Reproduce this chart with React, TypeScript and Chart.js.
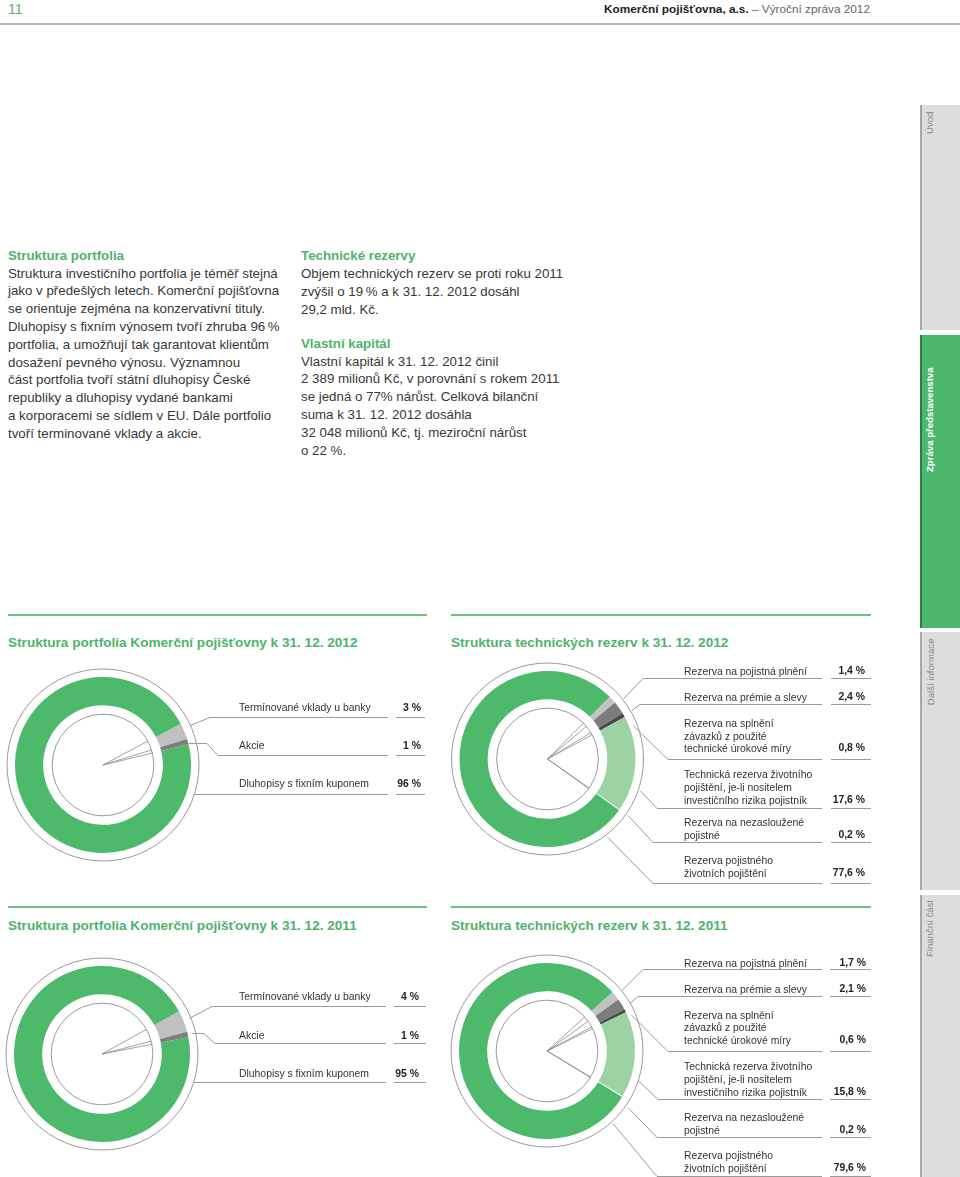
import React, { useEffect, useRef } from 'react';
import { Chart, registerables } from 'chart.js';
Chart.register(...registerables);

// ---------- data ----------
const portfolioLabels = ['Termínované vklady u banky', 'Akcie', 'Dluhopisy s fixním kuponem'];
const portfolio2012 = [3, 1, 96];
const portfolio2011 = [4, 1, 95];

const reserveLabels = [
  ['Rezerva na pojistná plnění'],
  ['Rezerva na prémie a slevy'],
  ['Rezerva na splnění', 'závazků z použité', 'technické úrokové míry'],
  ['Technická rezerva životního', 'pojištění, je-li nositelem', 'investičního rizika pojistník'],
  ['Rezerva na nezasloužené', 'pojistné'],
  ['Rezerva pojistného', 'životních pojištění'],
];
const reserves2012 = [1.4, 2.4, 0.8, 17.6, 0.2, 77.6];
const reserves2011 = [1.7, 2.1, 0.6, 15.8, 0.2, 79.6];

const portfolioColors = ['#c0c0c0', '#7e7e7e', '#4cb96b'];
const reserveColors = ['#c3c3c3', '#7d7d7d', '#4a4a4a', '#9dd3a3', '#e8f5ea', '#4cb96b'];

const GREEN = '#4db46a';
const FONT = '"Liberation Sans", Arial, Helvetica, sans-serif';

type Pt = [number, number];

interface DonutProps {
  left: number; top: number; width: number; height: number;
  cx: number; cy: number;
  values: number[]; colors: string[]; rotation: number;
  leaders: Pt[][];
  valueLines: { x1: number; x2: number; ys: number[] };
}

function Donut(p: DonutProps) {
  const ref = useRef<HTMLCanvasElement>(null);
  useEffect(() => {
    const R = 88;
    const relX = p.cx - p.left;
    const relY = p.cy - p.top;
    const decor = {
      id: 'decor',
      afterDatasetsDraw(chart: any) {
        const ctx = chart.ctx as CanvasRenderingContext2D;
        const arcs = chart.getDatasetMeta(0).data as any[];
        if (!arcs.length) return;
        const { x, y, outerRadius, innerRadius } = arcs[0].getProps(['x', 'y', 'outerRadius', 'innerRadius'], true);
        ctx.save();
        ctx.strokeStyle = '#9a9a9a';
        ctx.lineWidth = 1;
        ctx.beginPath();
        ctx.arc(x, y, outerRadius + 8, 0, Math.PI * 2);
        ctx.stroke();
        const rIn = innerRadius - 9;
        ctx.beginPath();
        ctx.arc(x, y, rIn, 0, Math.PI * 2);
        ctx.stroke();
        ctx.strokeStyle = '#8a8a8a';
        ctx.lineWidth = 0.8;
        ctx.beginPath();
        arcs.forEach((a) => {
          const sa = a.startAngle;
          ctx.moveTo(x, y);
          ctx.lineTo(x + rIn * Math.cos(sa), y + rIn * Math.sin(sa));
        });
        ctx.stroke();
        ctx.strokeStyle = '#9a9a9a';
        ctx.lineWidth = 1;
        p.leaders.forEach((pts) => {
          ctx.beginPath();
          pts.forEach(([px, py], i) => {
            const lx = px - p.left, ly = py - p.top + 0.5;
            if (i === 0) ctx.moveTo(lx, ly); else ctx.lineTo(lx, ly);
          });
          ctx.stroke();
        });
        ctx.beginPath();
        p.valueLines.ys.forEach((vy) => {
          ctx.moveTo(p.valueLines.x1 - p.left, vy - p.top + 0.5);
          ctx.lineTo(p.valueLines.x2 - p.left, vy - p.top + 0.5);
        });
        ctx.stroke();
        ctx.restore();
      },
    };
    const chart = new Chart(ref.current!, {
      type: 'doughnut',
      data: {
        labels: p.values.map((_, i) => String(i)),
        datasets: [{ data: p.values, backgroundColor: p.colors, borderWidth: 0 }],
      },
      options: {
        responsive: false,
        animation: false,
        devicePixelRatio: 1,
        rotation: p.rotation,
        cutout: '68%',
        events: [],
        layout: {
          padding: {
            left: relX - R,
            top: relY - R,
            right: p.width - (relX + R),
            bottom: p.height - (relY + R),
          },
        },
        plugins: { legend: { display: false }, tooltip: { enabled: false } },
      },
      plugins: [decor],
    });
    return () => chart.destroy();
  }, []);
  return (
    <canvas
      ref={ref}
      width={p.width}
      height={p.height}
      style={{ position: 'absolute', left: p.left, top: p.top, width: p.width, height: p.height }}
    />
  );
}

function T(props: { x: number; cy: number; size: number; lh?: number; color?: string; bold?: boolean; right?: boolean; children: React.ReactNode; style?: React.CSSProperties }) {
  const lh = props.lh ?? Math.round(props.size * 1.3);
  const st: React.CSSProperties = {
    position: 'absolute',
    top: props.cy - lh / 2,
    lineHeight: lh + 'px',
    fontSize: props.size,
    fontFamily: FONT,
    fontWeight: props.bold ? 700 : 400,
    color: props.color ?? '#333',
    whiteSpace: 'nowrap',
    ...props.style,
  };
  if (props.right) { st.right = 960 - props.x; st.textAlign = 'right'; } else st.left = props.x;
  return <div style={st}>{props.children}</div>;
}

const leftBody = [
  'Struktura investičního portfolia je téměř stejná',
  'jako v předešlých letech. Komerční pojišťovna',
  'se orientuje zejména na konzervativní tituly.',
  'Dluhopisy s fixním výnosem tvoří zhruba 96\u2009%',
  'portfolia, a umožňují tak garantovat klientům',
  'dosažení pevného výnosu. Významnou',
  'část portfolia tvoří státní dluhopisy České',
  'republiky a dluhopisy vydané bankami',
  'a korporacemi se sídlem v EU. Dále portfolio',
  'tvoří terminované vklady a akcie.',
];
const rightBody1 = [
  'Objem technických rezerv se proti roku 2011',
  'zvýšil o 19\u2009% a k 31. 12. 2012 dosáhl',
  '29,2 mld. Kč.',
];
const rightBody2 = [
  'Vlastní kapitál k 31. 12. 2012 činil',
  '2 389 milionů Kč, v porovnání s rokem 2011',
  'se jedná o 77% nárůst. Celková bilanční',
  'suma k 31. 12. 2012 dosáhla',
  '32 048 milionů Kč, tj. meziroční nárůst',
  'o 22 %.',
];

const fmtPct = (v: number) => `${v} %`;
const fmtRes = (v: number) => `${v.toFixed(1).replace('.', ',')} %`;

function Tab(props: { top: number; bottom: number; green?: boolean; label: string; textTop: number; textLen: number }) {
  const h = props.bottom - props.top;
  return (
    <>
      <div style={{ position: 'absolute', left: 920, top: props.top, width: 40, height: h, background: props.green ? '#4cb86b' : '#dddddd', borderLeft: `2px solid ${props.green ? '#2f7d45' : '#a8a8a8'}`, boxSizing: 'border-box' }} />
      <div style={{ position: 'absolute', left: 930 - props.textLen / 2 + 0, top: props.textTop + props.textLen / 2 - 6, width: props.textLen, height: 12, lineHeight: '12px', transform: 'rotate(-90deg)', transformOrigin: 'center center', fontSize: 9.6, fontFamily: FONT, color: props.green ? '#ffffff' : '#8a8a8a', fontWeight: props.green ? 700 : 400, whiteSpace: 'nowrap', textAlign: 'right' }}>{props.label}</div>
    </>
  );
}

export default function App() {
  useEffect(() => { document.body.style.margin = '0'; }, []);
  const pRows12 = [708, 746, 784];
  const pRows11 = [997, 1036, 1074];
  const tRows12 = [[671], [697], [723, 736, 748], [774, 787, 800], [822, 835], [860, 873]];
  const tRows11 = [[963], [989], [1015, 1027, 1040], [1066, 1079, 1092], [1117, 1130], [1155, 1168]];
  return (
    <div style={{ position: 'absolute', left: 0, top: 0, width: 960, height: 1177, overflow: 'hidden', background: '#fff' }}>
      {/* header */}
      <T x={8} cy={9} size={14} color={GREEN}>11</T>
      <T x={870} cy={9} size={11.8} right color="#222">
        <b>Komerční pojišťovna, a.s.</b><span style={{ color: '#666' }}> – Výroční zpráva 2012</span>
      </T>
      <div style={{ position: 'absolute', left: 0, top: 23, width: 960, height: 2, background: '#b5b5b5' }} />

      {/* side tabs */}
      <Tab top={105} bottom={330} label="Úvod" textTop={112} textLen={22} />
      <Tab top={335} bottom={628} green label="Zpráva představenstva" textTop={372} textLen={100} />
      <Tab top={632} bottom={890} label="Další informace" textTop={638} textLen={67} />
      <Tab top={895} bottom={1177} label="Finanční část" textTop={900} textLen={58} />

      {/* body text */}
      <T x={8} cy={255} size={13.3} bold color={GREEN}>Struktura portfolia</T>
      {leftBody.map((l, i) => <T key={'l' + i} x={8} cy={273 + i * 17.8} size={13.3} color="#383838">{l}</T>)}
      <T x={301} cy={255} size={13.3} bold color={GREEN}>Technické rezervy</T>
      {rightBody1.map((l, i) => <T key={'r' + i} x={301} cy={273 + i * 18} size={13.3} color="#383838">{l}</T>)}
      <T x={301} cy={343} size={13.3} bold color={GREEN}>Vlastní kapitál</T>
      {rightBody2.map((l, i) => <T key={'s' + i} x={301} cy={361 + i * 17.9} size={13.3} color="#383838">{l}</T>)}

      {/* rules */}
      <div style={{ position: 'absolute', left: 8, top: 614, width: 419, height: 2, background: '#6cc083' }} />
      <div style={{ position: 'absolute', left: 451, top: 614, width: 420, height: 2, background: '#6cc083' }} />
      <div style={{ position: 'absolute', left: 8, top: 906, width: 419, height: 2, background: '#6cc083' }} />
      <div style={{ position: 'absolute', left: 451, top: 906, width: 420, height: 2, background: '#6cc083' }} />

      {/* titles */}
      <T x={8} cy={643} size={13.6} bold color={GREEN}>Struktura portfolia Komerční pojišťovny k 31. 12. 2012</T>
      <T x={451} cy={643} size={13.6} bold color={GREEN}>Struktura technických rezerv k 31. 12. 2012</T>
      <T x={8} cy={926} size={13.6} bold color={GREEN}>Struktura portfolia Komerční pojišťovny k 31. 12. 2011</T>
      <T x={451} cy={926} size={13.6} bold color={GREEN}>Struktura technických rezerv k 31. 12. 2011</T>

      {/* charts */}
      <Donut left={0} top={655} width={440} height={230} cx={103} cy={765}
        values={portfolio2012} colors={portfolioColors} rotation={62}
        leaders={[[[190, 725], [210, 717], [388, 717]], [[189, 743], [207, 743], [218, 755], [388, 755]], [[194, 794], [388, 794]]]}
        valueLines={{ x1: 396, x2: 425, ys: [717, 755, 794] }} />
      <Donut left={0} top={945} width={440} height={232} cx={102} cy={1054}
        values={portfolio2011} colors={portfolioColors} rotation={61}
        leaders={[[[189, 1018], [212, 1006], [386, 1006]], [[192, 1033], [204, 1033], [215, 1043], [386, 1043]], [[193, 1082], [386, 1082]]]}
        valueLines={{ x1: 394, x2: 426, ys: [1006, 1043, 1082] }} />
      <Donut left={440} top={655} width={460} height={235} cx={547.5} cy={759}
        values={reserves2012} colors={reserveColors} rotation={45}
        leaders={[[[624, 698], [643, 678], [822, 678]], [[632, 710], [640, 704], [822, 704]], [[633, 725], [668, 759], [822, 759]], [[640, 790], [657, 808], [822, 808]], [[628, 815], [653, 842], [822, 842]], [[608, 837], [653, 883], [822, 883]]]}
        valueLines={{ x1: 831, x2: 871, ys: [678, 704, 759, 808, 842, 883] }} />
      <Donut left={440} top={945} width={460} height={232} cx={547} cy={1051}
        values={reserves2011} colors={reserveColors} rotation={48}
        leaders={[[[622, 990], [643, 969], [822, 969]], [[630, 1003], [638, 996], [822, 996]], [[632, 1015], [668, 1051], [822, 1051]], [[638, 1080], [658, 1099], [822, 1099]], [[628, 1107], [657, 1137], [822, 1137]], [[613, 1123], [657, 1176], [822, 1176]]]}
        valueLines={{ x1: 830, x2: 871, ys: [969, 996, 1051, 1099, 1137, 1176] }} />

      {/* legends */}
      {portfolioLabels.map((l, i) => <T key={'p12' + i} x={239} cy={pRows12[i]} size={10.4} color="#333">{l}</T>)}
      {portfolio2012.map((v, i) => <T key={'p12v' + i} x={421} cy={pRows12[i]} size={10.4} bold right color="#222">{fmtPct(v)}</T>)}
      {portfolioLabels.map((l, i) => <T key={'p11' + i} x={239} cy={pRows11[i]} size={10.4} color="#333">{l}</T>)}
      {portfolio2011.map((v, i) => <T key={'p11v' + i} x={419} cy={pRows11[i]} size={10.4} bold right color="#222">{fmtPct(v)}</T>)}
      {reserveLabels.map((lines, i) => lines.map((l, j) => <T key={'t12' + i + '_' + j} x={684} cy={tRows12[i][j]} size={10.4} lh={13} color="#333">{l}</T>))}
      {reserves2012.map((v, i) => <T key={'t12v' + i} x={865} cy={tRows12[i][tRows12[i].length - 1]} size={10.4} bold right color="#222">{fmtRes(v)}</T>)}
      {reserveLabels.map((lines, i) => lines.map((l, j) => <T key={'t11' + i + '_' + j} x={684} cy={tRows11[i][j]} size={10.4} lh={13} color="#333">{l}</T>))}
      {reserves2011.map((v, i) => <T key={'t11v' + i} x={866} cy={tRows11[i][tRows11[i].length - 1]} size={10.4} bold right color="#222">{fmtRes(v)}</T>)}
    </div>
  );
}
